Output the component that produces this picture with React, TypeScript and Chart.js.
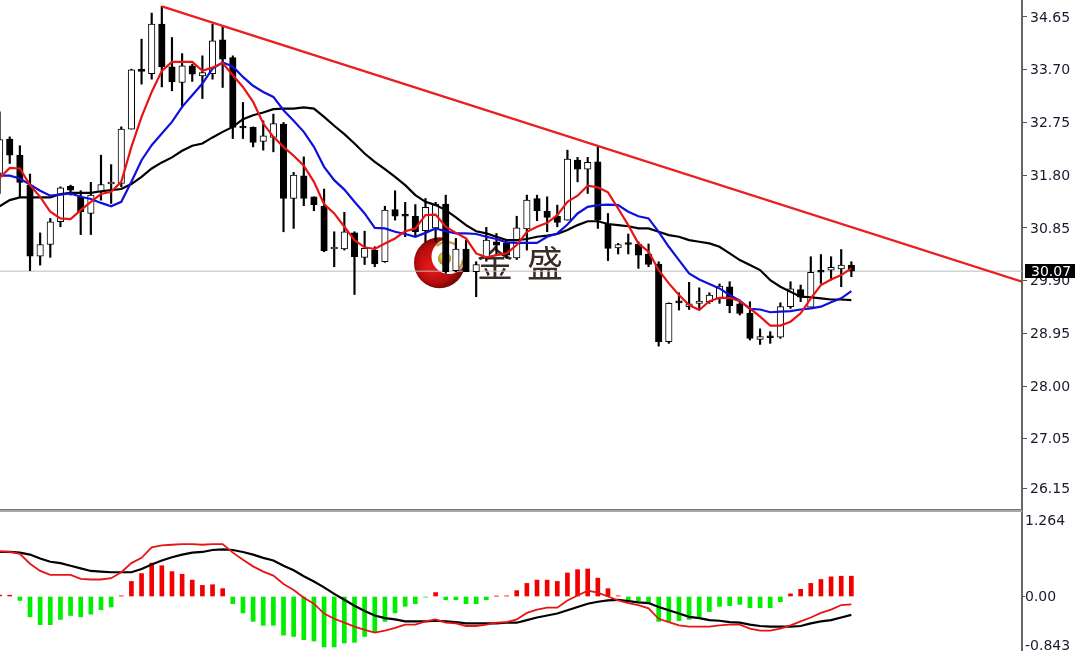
import React, { useEffect, useRef } from "react";
import { Chart, registerables } from "chart.js";

Chart.register(...registerables);

const opens = [31.83,32.45,32.16,31.62,30.34,30.55,30.96,31.60,31.40,31.11,
31.50,31.64,31.65,32.63,33.69,33.63,34.52,33.75,33.47,33.77,
33.59,33.63,34.24,33.92,32.67,32.66,32.41,32.48,32.72,31.38,
31.79,31.41,31.24,30.47,30.47,30.76,30.32,30.45,30.24,31.18,
31.07,31.06,30.80,30.85,31.28,30.08,30.47,30.06,30.30,30.60,
30.57,30.31,30.83,31.38,31.15,31.06,30.99,32.07,31.91,32.04,
30.92,30.49,30.56,30.56,30.38,30.20,28.80,29.51,29.43,29.49,
29.52,29.58,29.79,29.48,29.31,28.84,28.90,28.88,29.43,29.74,
29.42,30.06,30.09,30.11,30.18];
const highs = [32.94,32.49,32.33,31.82,30.76,31.02,31.59,31.62,31.52,31.67,
32.16,31.99,32.67,33.71,34.25,34.72,34.84,34.28,33.99,33.80,
33.95,34.52,34.50,33.95,33.11,32.67,32.78,32.90,32.75,31.85,
32.13,31.41,31.55,30.78,31.13,30.78,30.79,30.51,31.24,31.52,
31.31,31.27,31.38,31.31,31.44,30.66,30.63,30.24,30.86,30.75,
30.63,31.06,31.44,31.44,31.41,31.26,32.25,32.12,32.12,32.33,
31.11,30.57,30.74,30.60,30.56,30.24,29.50,29.68,29.87,29.77,
29.68,29.84,29.88,29.52,29.52,29.03,28.98,29.50,29.88,29.82,
30.33,30.37,30.33,30.46,30.24];
const lows = [31.47,32.01,31.41,30.08,30.18,30.32,30.87,31.44,30.73,30.73,
31.35,31.29,31.59,32.63,33.44,33.53,33.39,33.32,33.03,33.49,
33.18,33.53,33.38,32.46,32.46,32.31,32.25,32.22,30.78,30.84,
31.25,31.16,30.42,30.15,30.45,29.65,30.19,30.15,30.23,30.99,
30.69,30.69,30.60,30.60,30.03,30.06,30.06,29.61,30.25,30.36,
30.30,30.28,30.45,30.98,30.78,30.87,30.99,31.68,31.47,30.84,
30.26,30.38,30.38,30.12,30.15,28.72,28.77,29.37,29.38,29.37,
29.49,29.49,29.32,29.28,28.83,28.75,28.77,28.86,29.40,29.52,
29.42,29.85,29.91,29.79,29.97];
const closes = [32.44,32.16,31.67,30.34,30.55,30.96,31.57,31.53,31.14,31.44,
31.63,31.65,32.63,33.70,33.67,34.52,33.75,33.48,33.77,33.62,
33.65,34.22,33.89,32.66,32.65,32.39,32.51,32.73,31.38,31.80,
31.38,31.27,30.44,30.50,30.78,30.33,30.48,30.20,31.17,31.06,
31.06,30.78,31.22,31.28,30.06,30.47,30.06,30.19,30.63,30.54,
30.36,30.85,31.35,31.16,31.04,30.95,32.09,31.91,32.03,30.99,
30.48,30.55,30.55,30.36,30.19,28.80,29.49,29.50,29.48,29.53,
29.64,29.80,29.45,29.31,28.86,28.89,28.87,29.43,29.75,29.60,
30.05,30.05,30.14,30.18,30.07];
const maFast = [31.75,31.93,31.92,31.62,31.41,31.14,31.02,31.01,31.17,31.32,
31.46,31.50,31.68,32.31,32.85,33.30,33.68,33.84,33.84,33.84,
33.68,33.74,33.82,33.60,33.39,33.12,32.73,32.49,32.31,32.15,
31.97,31.68,31.28,31.11,30.87,30.63,30.50,30.47,30.57,30.66,
30.79,30.84,31.08,31.09,30.87,30.76,30.66,30.39,30.32,30.36,
30.39,30.54,30.78,30.87,30.94,31.08,31.32,31.43,31.61,31.58,
31.49,31.20,30.90,30.57,30.42,30.09,29.85,29.64,29.46,29.37,
29.53,29.59,29.59,29.53,29.40,29.25,29.09,29.09,29.16,29.31,
29.58,29.82,29.92,30.00,30.12];
const maMid = [31.79,31.79,31.74,31.63,31.52,31.43,31.45,31.47,31.41,31.37,
31.30,31.24,31.32,31.68,32.07,32.34,32.55,32.76,33.03,33.24,
33.45,33.72,33.83,33.76,33.57,33.41,33.30,33.21,32.97,32.78,
32.58,32.31,31.95,31.71,31.54,31.32,31.11,30.85,30.84,30.78,
30.74,30.69,30.76,30.84,30.79,30.75,30.75,30.74,30.69,30.65,
30.59,30.58,30.58,30.58,30.69,30.75,30.91,31.11,31.23,31.26,
31.27,31.26,31.14,31.06,31.02,30.78,30.51,30.27,30.03,29.92,
29.84,29.76,29.64,29.54,29.39,29.38,29.33,29.34,29.35,29.38,
29.40,29.43,29.51,29.58,29.71];
const maSlow = [31.24,31.35,31.40,31.40,31.40,31.40,31.46,31.48,31.48,31.48,
31.51,31.53,31.55,31.64,31.77,31.92,32.03,32.12,32.24,32.33,
32.37,32.48,32.58,32.67,32.81,32.88,32.93,32.99,33.00,33.00,
33.02,33.00,32.85,32.69,32.54,32.37,32.19,32.04,31.91,31.77,
31.62,31.44,31.32,31.26,31.17,31.04,30.90,30.79,30.75,30.69,
30.63,30.63,30.65,30.69,30.71,30.74,30.81,30.90,30.97,30.97,
30.92,30.90,30.88,30.84,30.84,30.78,30.72,30.69,30.63,30.60,
30.57,30.51,30.39,30.27,30.18,30.09,29.91,29.79,29.70,29.61,
29.60,29.58,29.56,29.56,29.55];
const macdHist = [0.02,0.02,-0.06,-0.31,-0.43,-0.43,-0.35,-0.29,-0.31,-0.27,
-0.20,-0.16,0.01,0.23,0.35,0.51,0.47,0.38,0.34,0.25,
0.17,0.18,0.12,-0.11,-0.25,-0.38,-0.44,-0.44,-0.59,-0.61,
-0.66,-0.68,-0.77,-0.77,-0.71,-0.70,-0.61,-0.54,-0.38,-0.25,
-0.15,-0.11,-0.01,0.06,-0.05,-0.05,-0.11,-0.11,-0.05,0.005,
0.01,0.09,0.20,0.25,0.25,0.23,0.36,0.41,0.42,0.28,
0.12,0.01,-0.06,-0.07,-0.10,-0.38,-0.38,-0.37,-0.35,-0.32,
-0.23,-0.15,-0.14,-0.12,-0.17,-0.17,-0.17,-0.08,0.04,0.11,
0.20,0.26,0.30,0.31,0.31];
const macdFast = [0.69,0.68,0.65,0.50,0.39,0.33,0.33,0.33,0.27,0.26,
0.26,0.28,0.37,0.51,0.59,0.75,0.78,0.79,0.80,0.80,
0.79,0.80,0.80,0.67,0.56,0.46,0.38,0.32,0.19,0.10,
-0.02,-0.11,-0.26,-0.34,-0.40,-0.46,-0.51,-0.55,-0.52,-0.48,
-0.43,-0.43,-0.38,-0.35,-0.40,-0.41,-0.45,-0.45,-0.43,-0.40,
-0.39,-0.35,-0.25,-0.20,-0.17,-0.17,-0.06,0.015,0.09,0.06,
0,-0.06,-0.10,-0.13,-0.18,-0.34,-0.39,-0.44,-0.46,-0.46,
-0.46,-0.44,-0.43,-0.43,-0.49,-0.52,-0.52,-0.49,-0.44,-0.38,
-0.32,-0.25,-0.20,-0.13,-0.12];
const macdSignal = [0.68,0.68,0.67,0.64,0.58,0.53,0.51,0.47,0.43,0.39,
0.38,0.37,0.37,0.37,0.42,0.49,0.55,0.60,0.64,0.67,
0.68,0.71,0.72,0.71,0.68,0.64,0.59,0.55,0.47,0.40,
0.31,0.23,0.14,0.04,-0.05,-0.14,-0.22,-0.29,-0.33,-0.35,
-0.38,-0.38,-0.38,-0.37,-0.38,-0.39,-0.41,-0.41,-0.41,-0.41,
-0.40,-0.40,-0.36,-0.32,-0.29,-0.26,-0.21,-0.16,-0.11,-0.08,
-0.06,-0.05,-0.07,-0.09,-0.10,-0.16,-0.21,-0.26,-0.31,-0.33,
-0.36,-0.37,-0.39,-0.40,-0.43,-0.45,-0.46,-0.46,-0.46,-0.45,
-0.41,-0.38,-0.36,-0.32,-0.28];

const priceTicks = [34.65,33.70,32.75,31.80,30.85,29.90,28.95,28.00,27.05,26.15];
const macdTickValues = [1.16,0,-0.74];
const macdTickLabels = ["1.264","0.00","-0.843"];
const lastPrice = 30.07;
const trendX = [16,100.83];
const trendY = [34.84,29.88];
const logoText = ["金","盛"];

const FONT = "DejaVu Sans";
const TEXT = "#1a1a2e";

const pts = (ys: number[]) => ys.map((y, i) => ({ x: i, y }));

function drawLogo(ctx: CanvasRenderingContext2D) {
  ctx.save();
  const g = ctx.createRadialGradient(430, 268, 3, 438, 262, 27);
  g.addColorStop(0, "#e01818");
  g.addColorStop(0.65, "#b80c0c");
  g.addColorStop(1, "#6e0606");
  ctx.fillStyle = g;
  ctx.beginPath();
  ctx.arc(439.5, 262.7, 25.5, 0, Math.PI * 2);
  ctx.fill();
  ctx.fillStyle = "#ffffff";
  ctx.beginPath();
  ctx.arc(449, 256.5, 17.5, 0, Math.PI * 2);
  ctx.fill();
  ctx.strokeStyle = "#c8a83a";
  ctx.lineWidth = 2.4;
  ctx.beginPath();
  ctx.arc(447, 258, 16, -2.3, -1.0);
  ctx.stroke();
  ctx.beginPath();
  ctx.arc(447, 258, 16, 0.1, 1.1);
  ctx.stroke();
  const b = ctx.createRadialGradient(443, 256, 1, 444.5, 258, 7);
  b.addColorStop(0, "#e8d468");
  b.addColorStop(1, "#a88a18");
  ctx.fillStyle = b;
  ctx.beginPath();
  ctx.arc(444.5, 258.5, 6.6, 0, Math.PI * 2);
  ctx.fill();
  ctx.fillStyle = "#3b2b28";
  ctx.font = '400 36px "Noto Sans CJK SC"';
  ctx.textAlign = "center";
  ctx.textBaseline = "middle";
  ctx.fillText(logoText[0], 495, 263);
  ctx.fillText(logoText[1], 545, 263);
  ctx.restore();
}

const panelPlugin = {
  id: "panel",
  beforeDatasetsDraw(chart: any) {
    drawLogo(chart.ctx);
  },
  afterDraw(chart: any) {
    const { ctx, chartArea, scales } = chart;
    ctx.save();
    const split = scales.y.bottom;
    ctx.fillStyle = "#777777";
    ctx.fillRect(0, split, chartArea.right, 1);
    ctx.fillStyle = "#a8a8a8";
    ctx.fillRect(0, split + 1, chartArea.right, 2);
    const y = scales.y.getPixelForValue(lastPrice);
    ctx.fillStyle = "#000000";
    ctx.fillRect(chartArea.right + 3, Math.round(y) - 7, 60, 14);
    ctx.fillStyle = "#ffffff";
    ctx.font = `14px "${FONT}"`;
    ctx.textAlign = "left";
    ctx.textBaseline = "middle";
    ctx.fillText(lastPrice.toFixed(2), 1031, y + 1);
    ctx.restore();
  },
};

export default function App() {
  const ref = useRef<HTMLCanvasElement | null>(null);
  useEffect(() => {
    document.body.style.margin = "0";
    const chart = new Chart(ref.current as HTMLCanvasElement, {
      type: "bar",
      data: {
        datasets: [
          {
            type: "line",
            data: [{ x: 0.04, y: lastPrice }, { x: 100.83, y: lastPrice }],
            yAxisID: "y",
            borderColor: "#bdbdbd",
            borderWidth: 1,
            pointRadius: 0,
            order: 20,
          },
          {
            data: highs.map((h, i) => ({ x: i, y: [lows[i], h] })),
            yAxisID: "y",
            backgroundColor: "#000000",
            barThickness: 1.5,
            grouped: false,
            order: 19,
          },
          {
            data: opens.map((o, i) => ({ x: i, y: [o, closes[i]] })),
            yAxisID: "y",
            backgroundColor: (c: any) => (closes[c.dataIndex] > opens[c.dataIndex] ? "#ffffff" : "#000000"),
            borderColor: "#000000",
            borderWidth: 1,
            borderSkipped: false,
            barThickness: 6.5,
            minBarLength: 2,
            grouped: false,
            order: 18,
          },
          {
            data: pts(macdHist),
            yAxisID: "y2",
            backgroundColor: (c: any) => (macdHist[c.dataIndex] >= 0 ? "#f00000" : "#00ee00"),
            barThickness: 4,
            grouped: false,
            order: 17,
          },
          {
            type: "line",
            data: pts(maSlow),
            yAxisID: "y",
            borderColor: "#000000",
            borderWidth: 2.2,
            pointRadius: 0,
            order: 6,
          },
          {
            type: "line",
            data: pts(maMid),
            yAxisID: "y",
            borderColor: "#1010dd",
            borderWidth: 2.2,
            pointRadius: 0,
            order: 5,
          },
          {
            type: "line",
            data: pts(maFast),
            yAxisID: "y",
            borderColor: "#e81414",
            borderWidth: 2.2,
            pointRadius: 0,
            order: 4,
          },
          {
            type: "line",
            data: trendX.map((x, i) => ({ x, y: trendY[i] })),
            yAxisID: "y",
            borderColor: "#e82020",
            borderWidth: 2.4,
            pointRadius: 0,
            order: 3,
          },
          {
            type: "line",
            data: pts(macdSignal),
            yAxisID: "y2",
            borderColor: "#000000",
            borderWidth: 2.2,
            pointRadius: 0,
            order: 2,
          },
          {
            type: "line",
            data: pts(macdFast),
            yAxisID: "y2",
            borderColor: "#e81414",
            borderWidth: 1.8,
            pointRadius: 0,
            order: 1,
          },
        ] as any,
      },
      options: {
        responsive: false,
        animation: false,
        events: [],
        layout: { padding: 0 },
        plugins: { legend: { display: false }, tooltip: { enabled: false } },
        scales: {
          x: { type: "linear", offset: false, min: 0.04, max: 100.83, display: false, grid: { display: false } },
          y: {
            position: "right",
            stack: "panes",
            stackWeight: 509,
            min: 25.785,
            max: 34.956,
            border: { color: "#666666", width: 2 },
            grid: { drawOnChartArea: false, color: "#555555", tickLength: 5, tickWidth: 1 },
            ticks: {
              autoSkip: false,
              padding: 3,
              labelOffset: 1,
              color: TEXT,
              font: { family: FONT, size: 14 },
              callback: (v: any) => Number(v).toFixed(2),
            },
            afterBuildTicks: (s: any) => {
              s.ticks = priceTicks.map((value) => ({ value }));
            },
            afterFit: (s: any) => {
              s.width = 53;
              s.paddingTop = 0;
              s.paddingBottom = 0;
            },
          },
          y2: {
            position: "right",
            stack: "panes",
            stackWeight: 142,
            min: -0.832,
            max: 1.336,
            border: { color: "#666666", width: 2 },
            grid: {
              drawOnChartArea: false,
              color: (c: any) => (c.tick && c.tick.value === 0 ? "#555555" : "rgba(0,0,0,0)"),
              tickLength: 3,
              tickWidth: 1,
            },
            ticks: {
              autoSkip: false,
              padding: 0,
              labelOffset: 1,
              color: TEXT,
              font: { family: FONT, size: 14 },
              callback: (v: any) => macdTickLabels[macdTickValues.indexOf(Number(v))] ?? "",
            },
            afterBuildTicks: (s: any) => {
              s.ticks = macdTickValues.map((value) => ({ value }));
            },
            afterFit: (s: any) => {
              s.width = 53;
              s.paddingTop = 0;
              s.paddingBottom = 0;
            },
          },
        },
      } as any,
      plugins: [panelPlugin],
    });
    return () => chart.destroy();
  }, []);
  return <canvas ref={ref} width={1075} height={651} style={{ display: "block" }} />;
}
